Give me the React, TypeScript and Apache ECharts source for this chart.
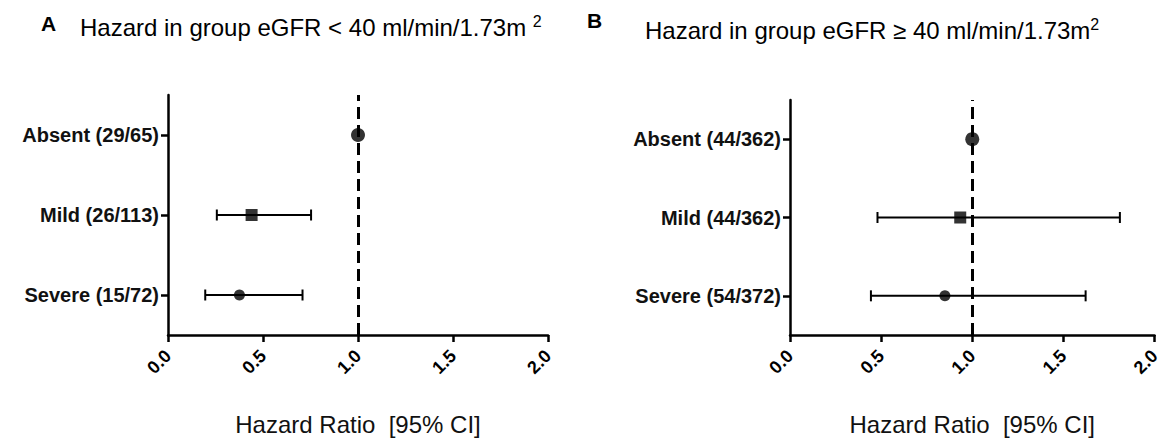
import React, { useEffect, useRef } from "react";
import * as echarts from "echarts";

const categories = ["Severe", "Mild", "Absent"];
const labelsA = ["Severe (15/72)", "Mild (26/113)", "Absent (29/65)"];
const labelsB = ["Severe (54/372)", "Mild (44/362)", "Absent (44/362)"];
const hrA = [0.376, 0.44, 1.0];
const lowA = [0.196, 0.257, null];
const highA = [0.708, 0.753, null];
const hrB = [0.85, 0.934, 1.0];
const lowB = [0.444, 0.48, null];
const highB = [1.622, 1.81, null];
const xTicks = [0, 0.5, 1.0, 1.5, 2.0];
const refValue = 1.0;

const FONT = "'Liberation Sans', Arial, sans-serif";
const symbols = [
  { symbol: "circle", size: 11 },
  { symbol: "rect", size: 12 },
  { symbol: "circle", size: 14 },
];

function errorRender(params: any, api: any) {
  const lo = api.value(0);
  const hi = api.value(1);
  const c = api.value(2);
  const p1 = api.coord([lo, c]);
  const p2 = api.coord([hi, c]);
  const h = 5.5;
  const style = { stroke: "#000", lineWidth: 2 };
  return {
    type: "group",
    children: [
      { type: "line", shape: { x1: p1[0], y1: p1[1], x2: p2[0], y2: p2[1] }, style },
      { type: "line", shape: { x1: p1[0], y1: p1[1] - h, x2: p1[0], y2: p1[1] + h }, style },
      { type: "line", shape: { x1: p2[0], y1: p2[1] - h, x2: p2[0], y2: p2[1] + h }, style },
    ],
  };
}

function makeX(idx: number) {
  return {
    type: "value",
    gridIndex: idx,
    min: xTicks[0],
    max: xTicks[xTicks.length - 1],
    interval: 0.5,
    splitLine: { show: false },
    axisLine: { show: true, onZero: false, lineStyle: { color: "#000", width: 2.5 } },
    axisTick: { show: true, length: 7, lineStyle: { color: "#000", width: 2.5 } },
    axisLabel: {
      rotate: 45,
      margin: 18,
      color: "#000",
      fontSize: 18,
      fontWeight: "bold",
      fontFamily: FONT,
      formatter: (v: number) => v.toFixed(1),
    },
    name: "Hazard Ratio  [95% CI]",
    nameLocation: "middle",
    nameGap: 77,
    nameTextStyle: { color: "#111", fontSize: 24, fontFamily: FONT },
  };
}

function makeY(idx: number, labels: string[]) {
  return {
    type: "category",
    gridIndex: idx,
    data: labels,
    boundaryGap: true,
    axisLine: { show: true, lineStyle: { color: "#000", width: 2.5 } },
    axisTick: { show: true, alignWithLabel: true, length: 7, lineStyle: { color: "#000", width: 2.5 } },
    axisLabel: { color: "#111", fontSize: 20, fontWeight: "bold", fontFamily: FONT, margin: 9 },
    splitLine: { show: false },
  };
}

function pointData(hr: number[]) {
  return hr.map((v, i) => ({
    value: [v, i],
    symbol: symbols[i].symbol,
    symbolSize: symbols[i].size,
  }));
}

function errData(lo: (number | null)[], hi: (number | null)[]) {
  const out: any[] = [];
  lo.forEach((l, i) => {
    if (l !== null && hi[i] !== null) out.push([l, hi[i], i]);
  });
  return out;
}

const titleStyle = {
  fontSize: 24,
  fontWeight: "normal",
  color: "#000",
  fontFamily: FONT,
  rich: { sup: { fontSize: 16, verticalAlign: "top", padding: [0, 0, 12, 0], color: "#000", fontFamily: FONT } },
};

export default function App() {
  const ref = useRef<HTMLDivElement>(null);
  useEffect(() => {
    if (!ref.current) return;
    const chart = echarts.init(ref.current, null, { renderer: "svg" });
    const markLine = {
      silent: true,
      symbol: ["none", "none"],
      label: { show: false },
      lineStyle: { color: "#000", type: [12, 6], width: 3 },
      data: [{ xAxis: refValue }],
    };
    chart.setOption({
      animation: false,
      backgroundColor: "#fff",
      textStyle: { fontFamily: FONT },
      title: [
        { text: "A", left: 36, top: 8, textStyle: { fontSize: 21, fontWeight: "bold", color: "#000", fontFamily: FONT } },
        { text: "B", left: 582, top: 5, textStyle: { fontSize: 21, fontWeight: "bold", color: "#000", fontFamily: FONT } },
        { text: "Hazard in group eGFR < 40 ml/min/1.73m {sup|2}", left: 75, top: 8, textStyle: titleStyle },
        { text: "Hazard in group eGFR \u2265 40 ml/min/1.73m{sup|2}", left: 640, top: 11, textStyle: titleStyle },
      ],
      grid: [
        { left: 168, top: 95, width: 380, height: 253, containLabel: false },
        { left: 790, top: 100, width: 371, height: 248, containLabel: false },
      ],
      xAxis: [makeX(0), makeX(1)],
      yAxis: [makeY(0, labelsA), makeY(1, labelsB)],
      series: [
        {
          type: "custom",
          xAxisIndex: 0,
          yAxisIndex: 0,
          renderItem: errorRender,
          encode: { x: [0, 1], y: 2 },
          data: errData(lowA, highA),
          z: 3,
        },
        {
          type: "scatter",
          xAxisIndex: 0,
          yAxisIndex: 0,
          itemStyle: { color: "#000" },
          data: pointData(hrA),
          markLine,
          z: 4,
        },
        {
          type: "custom",
          xAxisIndex: 1,
          yAxisIndex: 1,
          renderItem: errorRender,
          encode: { x: [0, 1], y: 2 },
          data: errData(lowB, highB),
          z: 3,
        },
        {
          type: "scatter",
          xAxisIndex: 1,
          yAxisIndex: 1,
          itemStyle: { color: "#000" },
          data: pointData(hrB),
          markLine,
          z: 4,
        },
      ],
    });
    return () => chart.dispose();
  }, []);
  return (
    <div
      ref={ref}
      style={{ position: "fixed", left: 0, top: 0, width: 1163, height: 441, background: "#fff" }}
    />
  );
}
